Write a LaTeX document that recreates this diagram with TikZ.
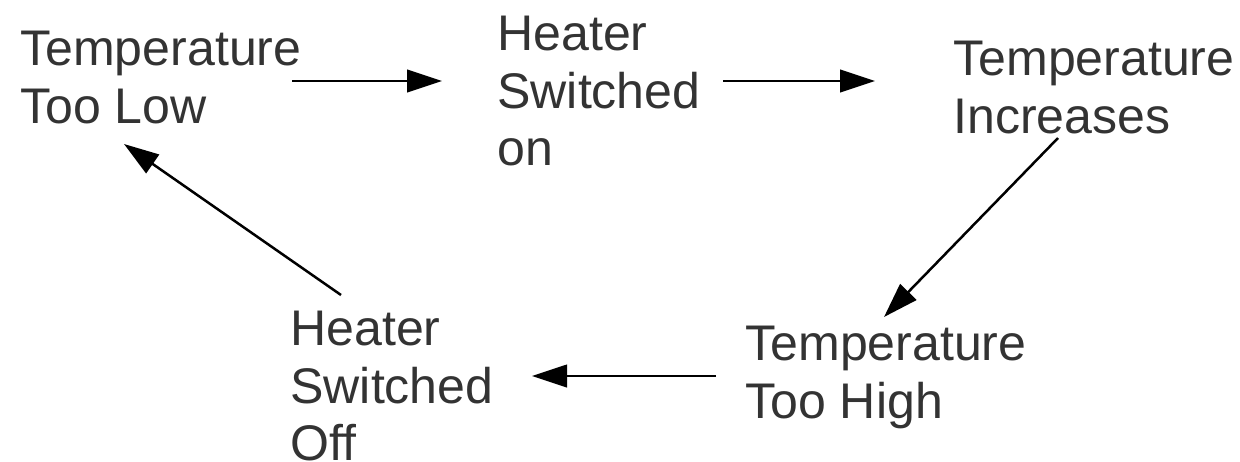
\documentclass[tikz,border=0pt]{standalone}
\usepackage{fontspec}
\setmainfont{Liberation Sans}
\usetikzlibrary{arrows.meta}
\begin{document}
\begin{tikzpicture}[x=0.02cm,y=-0.02cm,
  lbl/.style={anchor=north west,inner sep=0pt,align=left,text=black!80,
    font=\fontsize{28.5}{32.6}\selectfont},
  arr/.style={line width=0.05cm,-{Triangle[length=0.7cm,width=0.45cm]}}]
\useasboundingbox (0,0) rectangle (1240,461);
\clip (0,0) rectangle (1240,461);
\node[lbl] (tlow) at (20,31) {Temperature\\Too Low};
\node[lbl] (hon) at (497,16) {Heater\\Switched\\on};
\node[lbl] (tinc) at (953,41) {Temperature\\Increases};
\node[lbl] (thigh) at (745,326) {Temperature\\Too High};
\node[lbl] (hoff) at (290,311) {Heater\\Switched\\Off};
\coordinate (a1s) at (292,81); \coordinate (a1e) at (442,81);
\coordinate (a2s) at (723,81); \coordinate (a2e) at (875,81);
\coordinate (a3s) at (1058,138); \coordinate (a3e) at (884,317);
\coordinate (a4s) at (716,376); \coordinate (a4e) at (532,376);
\coordinate (a5s) at (341,295); \coordinate (a5e) at (124,144);
\draw[arr] (a1s) -- (a1e);
\draw[arr] (a2s) -- (a2e);
\draw[arr] (a3s) -- (a3e);
\draw[arr] (a4s) -- (a4e);
\draw[arr] (a5s) -- (a5e);
\end{tikzpicture}
\end{document}
